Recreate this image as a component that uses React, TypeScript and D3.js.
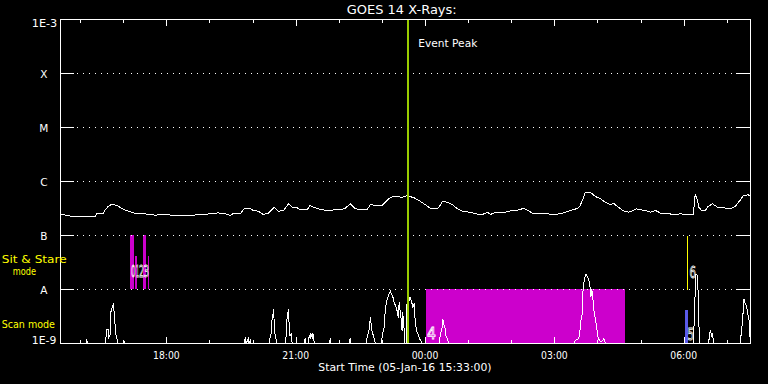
import React from "react";
import * as d3 from "d3";

// ---------- data ----------
const startTime = new Date(2016, 0, 5, 15, 33, 0);
const endTime = new Date(2016, 0, 6, 7, 33, 0);
const titleText = "GOES 14 X-Rays:";
const xAxisTitle = "Start Time (05-Jan-16 15:33:00)";

const levelNames = ["1E-9", "A", "B", "C", "M", "X", "1E-3"];
const levelFlux = [1e-9, 1e-8, 1e-7, 1e-6, 1e-5, 1e-4, 1e-3];

// long channel (1-8 A), minutes after start / flux (W m^-2)
const longMinutes = [0, 10, 17, 27, 48, 50, 59, 62, 66, 71, 78, 82, 89, 96, 103, 117, 131, 145, 159, 173, 194, 208, 219, 229, 236, 241, 250, 255, 264, 268, 275, 282, 289, 297, 303, 310, 317, 322, 329, 333, 343, 347, 354, 364, 372, 382, 389, 396, 403, 410, 420, 426, 431, 440, 447, 452, 459, 465, 475, 482, 486, 493, 500, 507, 514, 524, 528, 531, 538, 545, 552, 560, 570, 577, 587, 594, 598, 605, 619, 628, 639, 644, 651, 656, 667, 677, 688, 698, 705, 713, 720, 723, 727, 730, 737, 744, 751, 758, 765, 769, 775, 782, 790, 797, 801, 807, 814, 821, 828, 835, 844, 853, 862, 872, 880, 882, 883, 886, 888, 892, 897, 901, 907, 914, 922, 932, 939, 946, 950, 957, 960];
const longFlux = [2.45e-7, 2.35e-7, 2.22e-7, 2.22e-7, 2.22e-7, 2.52e-7, 2.5e-7, 2.99e-7, 3.45e-7, 3.8e-7, 3.6e-7, 3.35e-7, 2.99e-7, 2.78e-7, 2.59e-7, 2.52e-7, 2.38e-7, 2.45e-7, 2.35e-7, 2.35e-7, 2.42e-7, 2.52e-7, 2.63e-7, 2.52e-7, 2.35e-7, 2.59e-7, 2.52e-7, 3.12e-7, 3.12e-7, 2.9e-7, 2.82e-7, 2.45e-7, 2.59e-7, 3.35e-7, 2.82e-7, 2.9e-7, 3.87e-7, 3.35e-7, 3.26e-7, 2.99e-7, 2.99e-7, 3.6e-7, 3.26e-7, 2.99e-7, 2.9e-7, 2.99e-7, 2.99e-7, 3.21e-7, 3.87e-7, 3.12e-7, 2.99e-7, 2.99e-7, 3.71e-7, 3.6e-7, 3.6e-7, 4.14e-7, 5.12e-7, 5.28e-7, 5.12e-7, 5.5e-7, 5.28e-7, 4.91e-7, 4.32e-7, 3.75e-7, 3.21e-7, 3.12e-7, 3.6e-7, 4.32e-7, 4.14e-7, 3.75e-7, 3.12e-7, 2.78e-7, 2.7e-7, 2.52e-7, 2.45e-7, 2.7e-7, 2.45e-7, 2.7e-7, 2.7e-7, 2.9e-7, 2.99e-7, 3.21e-7, 2.9e-7, 2.59e-7, 2.52e-7, 2.52e-7, 2.45e-7, 2.59e-7, 2.78e-7, 2.99e-7, 3.21e-7, 3.6e-7, 4.79e-7, 6.34e-7, 6.34e-7, 5.28e-7, 4.79e-7, 4.14e-7, 3.71e-7, 3.97e-7, 3.45e-7, 2.9e-7, 2.7e-7, 2.9e-7, 3.12e-7, 2.99e-7, 2.9e-7, 2.7e-7, 2.9e-7, 2.59e-7, 2.59e-7, 2.42e-7, 2.52e-7, 2.45e-7, 2.45e-7, 3.97e-7, 5.74e-7, 4.59e-7, 3.35e-7, 2.9e-7, 2.9e-7, 3.45e-7, 3.87e-7, 3.35e-7, 3.26e-7, 3.12e-7, 3.45e-7, 4.59e-7, 5.5e-7, 5.65e-7, 5.28e-7];

// short channel (0.5-4 A)
const shortMinutes = [0, 35, 36, 38, 62, 63, 64, 66, 67, 69, 70, 73, 74, 75, 77, 78, 80, 87, 88, 89, 255, 257, 258, 261, 262, 264, 265, 290, 291, 293, 294, 295, 296, 297, 298, 300, 301, 312, 314, 315, 317, 318, 319, 321, 322, 339, 340, 341, 344, 346, 347, 348, 350, 351, 353, 374, 375, 376, 401, 403, 404, 425, 426, 429, 431, 433, 435, 437, 438, 446, 447, 449, 450, 452, 454, 456, 459, 460, 463, 464, 467, 468, 470, 471, 474, 475, 476, 478, 479, 481, 482, 484, 485, 486, 488, 490, 492, 493, 495, 498, 499, 501, 503, 527, 528, 531, 532, 534, 535, 536, 538, 540, 715, 716, 721, 722, 724, 726, 727, 729, 731, 733, 735, 737, 738, 739, 740, 742, 744, 746, 748, 750, 752, 754, 756, 758, 880, 882, 883, 884, 886, 887, 888, 889, 901, 903, 904, 906, 907, 909, 946, 947, 949, 950, 951, 952, 954, 955, 957, 958, 959, 960];
const shortFlux = [1e-9, 1e-9, 1.14e-9, 1e-9, 1e-9, 1.31e-9, 1.79e-9, 1.79e-9, 1.29e-9, 1.47e-9, 4.08e-9, 5.21e-9, 4.26e-9, 2.67e-9, 1.41e-9, 1.24e-9, 1e-9, 1e-9, 1.14e-9, 1e-9, 1e-9, 1.29e-9, 1e-9, 1.24e-9, 1e-9, 1.14e-9, 1e-9, 1e-9, 1.24e-9, 1.53e-9, 2.67e-9, 3.03e-9, 4.39e-9, 2.67e-9, 1.53e-9, 1.14e-9, 1e-9, 1e-9, 1.41e-9, 3.03e-9, 4.26e-9, 1.98e-9, 1.41e-9, 1.53e-9, 1e-9, 1e-9, 1.24e-9, 1e-9, 1e-9, 1.41e-9, 1.24e-9, 1.53e-9, 1.29e-9, 1.53e-9, 1e-9, 1e-9, 1.24e-9, 1e-9, 1e-9, 1.24e-9, 1e-9, 1e-9, 1.24e-9, 1.74e-9, 3.03e-9, 1.74e-9, 1.41e-9, 1.14e-9, 1e-9, 1e-9, 1.24e-9, 1.74e-9, 1.98e-9, 4.64e-9, 6.25e-9, 7.74e-9, 9.3e-9, 8.44e-9, 6.81e-9, 5.74e-9, 4.64e-9, 4.08e-9, 3.03e-9, 5.74e-9, 2.67e-9, 1.74e-9, 3.75e-9, 1.74e-9, 1e-9, 1e-9, 6e-9, 9.3e-9, 6.25e-9, 7.2e-9, 6.25e-9, 4.7e-9, 5.51e-9, 3.07e-9, 1.74e-9, 1.41e-9, 1.24e-9, 1.14e-9, 1e-9, 1e-9, 1.41e-9, 1.98e-9, 2.78e-9, 1.98e-9, 1.9e-9, 1.41e-9, 1.24e-9, 1e-9, 1e-9, 1.14e-9, 1.24e-9, 1.41e-9, 2.67e-9, 3.59e-9, 1.04e-8, 1.58e-8, 1.9e-8, 1.75e-8, 1.47e-8, 1.04e-8, 7.42e-9, 1.04e-8, 8.44e-9, 4.08e-9, 2.9e-9, 1.98e-9, 1.24e-9, 1.14e-9, 1.06e-9, 1.14e-9, 1.24e-9, 1e-9, 1e-9, 2.9e-9, 9.58e-9, 1.9e-8, 1.85e-8, 9.58e-9, 2.9e-9, 1e-9, 1e-9, 1.31e-9, 1.79e-9, 1.41e-9, 1.53e-9, 1e-9, 1e-9, 1.53e-9, 2.67e-9, 4.45e-9, 6.73e-9, 5.82e-9, 5.06e-9, 4.45e-9, 3.07e-9, 2.67e-9, 1.53e-9, 1e-9];

const eventPeakMinute = 483.6;
const eventPeakLabel = "Event Peak";

// observing events (minutes after start)
const eventIds = ["0", "1", "2", "3", "4", "5", "6"];
const eventStartMin = [96.5, 103.4, 114.1, 121.5, 508.7, 869.4, 872.6];
const eventEndMin = [101.6, 106.6, 118.7, 122.5, 785.9, 873.6, 872.6];
const eventTopFlux = [1e-7, 4.14e-8, 1e-7, 4.14e-8, 1e-8, 4.08e-9, 1e-7];
const eventBottomFlux = [1e-8, 1e-8, 1e-8, 1e-8, 1e-9, 1e-9, 1e-8];
const eventLabelMin = [97.8, 104.8, 109, 115, 509.7, 872.2, 875];
const eventLabelFlux = [1.67e-8, 1.67e-8, 1.67e-8, 1.67e-8, 1.2e-9, 1.18e-9, 1.6e-8];

const modeLabels = ["Sit & Stare", "mode", "Scan mode"];

// ---------- styles ----------
const eventColors = ["#cc00cc", "#cc00cc", "#cc00cc", "#cc00cc", "#cc00cc", "#5a5ae8", "#ffff00"];
const eventLabelWidths = [4.5, 3, 5, 5.5, 9, 6.5, 6.5];
const FONT = "DejaVu Sans, sans-serif";

export default function App() {
  const W = 768;
  const H = 384;
  const left = 60.5;
  const right = 750.5;
  const top = 19.5;
  const bottom = 343.5;

  const x = d3.scaleTime().domain([startTime, endTime]).range([left + 0.25, right]);
  const y = d3.scaleLog().domain([1e-9, 1e-3]).range([bottom, top]);
  const t = (m: number) => new Date(startTime.getTime() + m * 60000);
  const xm = (m: number) => x(t(m));
  const yf = (f: number) => y(Math.max(f, 1e-9));

  const line = d3
    .line<number>()
    .x((_, i) => 0)
    .y(() => 0);

  const mkPath = (mins: number[], flux: number[]) =>
    d3
      .line<number>()
      .x((m) => xm(m))
      .y((_, i) => yf(flux[i]))(mins) || "";

  const longPath = mkPath(longMinutes, longFlux);
  const shortPath = mkPath(shortMinutes, shortFlux);
  void line;

  const hourTicks = d3.timeHour.range(d3.timeHour.ceil(startTime), endTime);
  const fmt = d3.timeFormat("%H:%M");

  const peakX = xm(eventPeakMinute);

  return (
    <svg
      width={W}
      height={H}
      style={{ position: "absolute", left: 0, top: 0, background: "#000" }}
      fontFamily={FONT}
    >
      <rect x={0} y={0} width={W} height={H} fill="#000" />

      {/* title */}
      <text x={346.7} y={13.5} fill="#fff" fontSize={12} textLength={110} lengthAdjust="spacingAndGlyphs">
        {titleText}
      </text>

      {/* event rectangles */}
      {eventIds.map((id, i) =>
        eventColors[i] === "#ffff00" ? null : (
          <rect
            key={"ev" + id}
            x={xm(eventStartMin[i])}
            y={yf(eventTopFlux[i]) - 0.5}
            width={Math.max(1, xm(eventEndMin[i]) - xm(eventStartMin[i]))}
            height={yf(eventBottomFlux[i]) - yf(eventTopFlux[i])}
            fill={eventColors[i]}
            shapeRendering="crispEdges"
          />
        )
      )}

      {/* dotted level gridlines */}
      {levelFlux.slice(1, -1).map((f) => (
        <line
          key={"g" + f}
          x1={77}
          x2={734}
          y1={y(f)}
          y2={y(f)}
          stroke="#fff"
          strokeWidth={1}
          strokeDasharray="1 5"
          shapeRendering="crispEdges"
        />
      ))}

      {/* yellow event line */}
      {eventIds.map((id, i) =>
        eventColors[i] === "#ffff00" ? (
          <line
            key={"evl" + id}
            x1={xm(eventStartMin[i])}
            x2={xm(eventStartMin[i])}
            y1={yf(eventTopFlux[i])}
            y2={yf(eventBottomFlux[i])}
            stroke="#ffff00"
            strokeWidth={1}
            shapeRendering="crispEdges"
          />
        ) : null
      )}

      {/* data curves */}
      <path d={longPath} fill="none" stroke="#fff" strokeWidth={1} shapeRendering="crispEdges" />
      <path d={shortPath} fill="none" stroke="#fff" strokeWidth={1} shapeRendering="crispEdges" />

      {/* event labels */}
      {eventIds.map((id, i) => (
        <text
          key={"lab" + id}
          x={xm(eventLabelMin[i])}
          y={yf(eventLabelFlux[i])}
          fontSize={15}
          fill="none"
          stroke="#fff"
          strokeWidth={0.8}
          textLength={eventLabelWidths[i]}
          lengthAdjust="spacingAndGlyphs"
        >
          {id}
        </text>
      ))}

      {/* event peak */}
      <line x1={peakX} x2={peakX} y1={top} y2={bottom} stroke="#99cc00" strokeWidth={2} shapeRendering="crispEdges" />
      <text x={418.3} y={46.5} fill="#fff" fontSize={10.5} textLength={59} lengthAdjust="spacingAndGlyphs">
        {eventPeakLabel}
      </text>

      {/* frame */}
      <rect x={left} y={top} width={right - left} height={bottom - top} fill="none" stroke="#fff" strokeWidth={1} shapeRendering="crispEdges" />

      {/* y ticks both sides */}
      {levelFlux.map((f) => (
        <g key={"yt" + f}>
          <line x1={left} x2={74} y1={y(f)} y2={y(f)} stroke="#fff" shapeRendering="crispEdges" />
          <line x1={736} x2={right} y1={y(f)} y2={y(f)} stroke="#fff" shapeRendering="crispEdges" />
        </g>
      ))}

      {/* y labels */}
      {levelNames.map((n, i) => {
        const yy = y(levelFlux[i]);
        if (n === "1E-3")
          return (
            <text key={n} x={57.3} y={yy + 7.5} textAnchor="end" fill="#fff" fontSize={11} textLength={25.6} lengthAdjust="spacingAndGlyphs">
              {n}
            </text>
          );
        if (n === "1E-9")
          return (
            <text key={n} x={56.3} y={yy + 0.8} textAnchor="end" fill="#fff" fontSize={11} textLength={24.5} lengthAdjust="spacingAndGlyphs">
              {n}
            </text>
          );
        return (
          <text key={n} x={43.8} y={yy + 4} textAnchor="middle" fill="#fff" fontSize={10.5}>
            {n}
          </text>
        );
      })}

      {/* mode labels */}
      <text x={1.7} y={263} fill="#ffff00" fontSize={10.5} textLength={65} lengthAdjust="spacingAndGlyphs">
        {modeLabels[0]}
      </text>
      <text x={12.7} y={275} fill="#ffff00" fontSize={10.5} textLength={23.3} lengthAdjust="spacingAndGlyphs">
        {modeLabels[1]}
      </text>
      <text x={1.7} y={328} fill="#ffff00" fontSize={10.5} textLength={53.3} lengthAdjust="spacingAndGlyphs">
        {modeLabels[2]}
      </text>

      {/* time ticks */}
      {hourTicks.map((d) => {
        const major = d.getHours() % 3 === 0;
        const len = major ? 6.5 : 3.5;
        const xx = Math.round(x(d)) + 0.5;
        return (
          <g key={"xt" + d.getTime()}>
            <line x1={xx} x2={xx} y1={top} y2={top + len} stroke="#fff" shapeRendering="crispEdges" />
            <line x1={xx} x2={xx} y1={bottom} y2={bottom - len} stroke="#fff" shapeRendering="crispEdges" />
            {major ? (
              <text x={x(d)} y={359} textAnchor="middle" fill="#fff" fontSize={10} textLength={26.7} lengthAdjust="spacingAndGlyphs">
                {fmt(d)}
              </text>
            ) : null}
          </g>
        );
      })}

      <text x={318.3} y={370.5} fill="#fff" fontSize={10.5} textLength={173.3} lengthAdjust="spacingAndGlyphs">
        {xAxisTitle}
      </text>
    </svg>
  );
}
